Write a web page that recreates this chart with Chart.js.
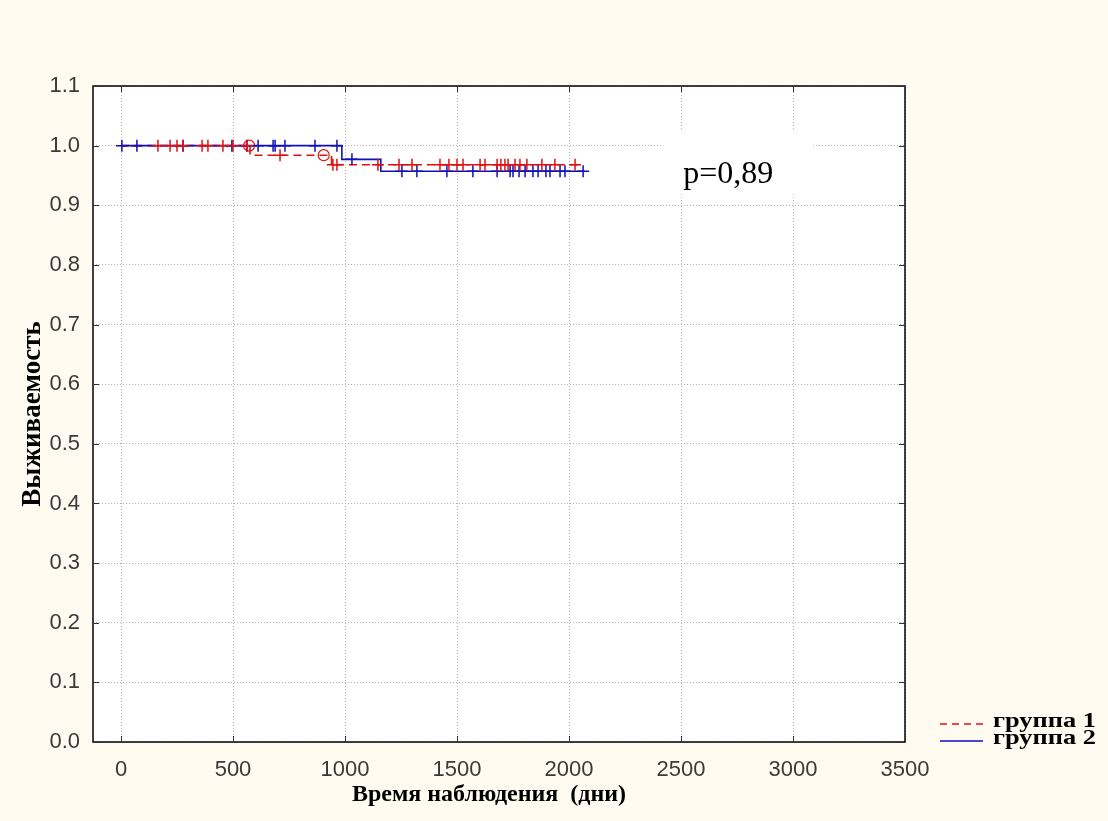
<!DOCTYPE html>
<html>
<head>
<meta charset="utf-8">
<script src="https://cdn.jsdelivr.net/npm/chart.js@4.4.1/dist/chart.umd.min.js"></script>
<style>
   html, body { margin: 0; padding: 0; background: #fffbf1; }
   #wrap { width: 1108px; height: 821px; }
</style>
</head>
<body>
<div id="wrap"><canvas id="kmChart"></canvas></div>
<script>
// Kaplan-Meier steps: time (days) and survival after the step
const group1Times = [0, 576, 940, 2050];
const group1Surv = [1.0, 0.984, 0.968, 0.968];
const group2Times = [0, 986, 1160, 2070];
const group2Surv = [1.0, 0.977, 0.957, 0.957];

// censored observations (days)
const group1Censored = [165, 219, 250, 277, 362, 388, 455, 500, 562, 710, 946, 964, 1147, 1241, 1299,
   1424, 1464, 1500, 1527, 1603, 1625, 1679, 1696, 1714, 1728, 1759, 1781, 1812, 1879, 1937, 2027];
const group2Censored = [4, 71, 277, 495, 562, 612, 679, 688, 732, 866, 964, 1031, 1254, 1321,
   1455, 1571, 1679, 1737, 1750, 1777, 1804, 1839, 1862, 1897, 1915, 1960, 1982, 2063];

// complete observations marked with open circles (group 1)
const group1Events = [572, 905];

const xTicks = [0, 500, 1000, 1500, 2000, 2500, 3000, 3500];
const yTicks = [0.0, 0.1, 0.2, 0.3, 0.4, 0.5, 0.6, 0.7, 0.8, 0.9, 1.0, 1.1];
const seriesLabels = ['группа 1', 'группа 2'];
const xTitle = 'Время наблюдения  (дни)';
const yTitle = 'Выживаемость';
const pValueText = 'p=0,89';

const red = '#e01010';
const blue = '#1010b8';
const serif = '"Liberation Serif", "Times New Roman", serif';

// survival value of a step curve at time t
function survAt(times, surv, t) {
   let s = surv[0];
   for (let i = 0; i < times.length; i++) {
      if (times[i] <= t) s = surv[i];
   }
   return s;
}

function toPoints(times, values) {
   return times.map((t, i) => ({ x: t, y: values[i] }));
}

const frame = {
   id: 'frame',
   beforeDraw(chart) {
      const c = chart.ctx;
      const a = chart.chartArea;
      c.save();
      c.fillStyle = '#fffbf1';
      c.fillRect(0, 0, chart.width, chart.height);
      c.fillStyle = '#ffffff';
      c.fillRect(a.left, a.top, a.right - a.left, a.bottom - a.top);
      c.restore();
   },
   beforeDatasetsDraw(chart) {
      // white box behind the p value hides the grid
      const c = chart.ctx;
      const x = chart.scales.x.getPixelForValue(2510);
      const y = chart.scales.y.getPixelForValue(0.938);
      c.save();
      c.fillStyle = '#ffffff';
      c.fillRect(x - 20, y - 53, 150, 65);
      c.restore();
   },
   afterDraw(chart) {
      const c = chart.ctx;
      const a = chart.chartArea;
      const sx = chart.scales.x;
      const sy = chart.scales.y;
      c.save();

      // box round the plot and small inner ticks
      c.strokeStyle = '#000000';
      c.lineWidth = 1.5;
      c.strokeRect(a.left, a.top, a.right - a.left, a.bottom - a.top);
      c.strokeStyle = '#333333';
      c.lineWidth = 1;
      c.beginPath();
      xTicks.forEach(v => {
         const px = Math.round(sx.getPixelForValue(v)) + 0.5;
         c.moveTo(px, a.bottom); c.lineTo(px, a.bottom - 6);
         c.moveTo(px, a.top); c.lineTo(px, a.top + 6);
      });
      yTicks.forEach(v => {
         const py = Math.round(sy.getPixelForValue(v)) + 0.5;
         c.moveTo(a.left, py); c.lineTo(a.left + 6, py);
         c.moveTo(a.right, py); c.lineTo(a.right - 6, py);
      });
      c.stroke();

      // p value
      c.fillStyle = '#000000';
      c.font = '32px ' + serif;
      c.textBaseline = 'alphabetic';
      c.textAlign = 'left';
      c.fillText(pValueText, sx.getPixelForValue(2510), sy.getPixelForValue(0.938));

      // axis titles
      c.font = 'bold 24px ' + serif;
      c.textAlign = 'center';
      c.textBaseline = 'middle';
      c.fillText(xTitle, a.left + 396, a.bottom + 53);
      c.save();
      c.translate(33, (a.top + a.bottom) / 2);
      c.rotate(-Math.PI / 2);
      c.font = 'bold 27px ' + serif;
      c.fillText(yTitle, 0, 0);
      c.restore();

      // legend
      const lx = a.right + 35;
      c.lineWidth = 1.5;
      c.strokeStyle = red;
      c.setLineDash([7, 5]);
      c.beginPath(); c.moveTo(lx, a.bottom - 18); c.lineTo(lx + 43, a.bottom - 18); c.stroke();
      c.setLineDash([]);
      c.strokeStyle = blue;
      c.beginPath(); c.moveTo(lx, a.bottom - 1); c.lineTo(lx + 43, a.bottom - 1); c.stroke();
      c.font = 'bold 22px ' + serif;
      c.textAlign = 'left';
      c.textBaseline = 'alphabetic';
      [seriesLabels[0], seriesLabels[1]].forEach((txt, i) => {
         c.save();
         c.translate(lx + 53, a.bottom - 15 + i * 17);
         c.scale(1.2, 1);
         c.fillText(txt, 0, 0);
         c.restore();
      });
      c.restore();
   }
};

document.addEventListener('DOMContentLoaded', () => {
   const ctx = document.getElementById('kmChart').getContext('2d');

   const crossStyle = (color) => ({
      showLine: false,
      pointStyle: 'cross',
      pointRadius: 6,
      pointBorderWidth: 1.5,
      borderColor: color,
      backgroundColor: color
   });

   new Chart(ctx, {
      type: 'scatter',
      data: {
         datasets: [
            {
               label: seriesLabels[0] + ' cens',
               data: group1Censored.map(t => ({ x: t, y: survAt(group1Times, group1Surv, t) })),
               ...crossStyle(red)
            },
            {
               label: seriesLabels[1] + ' cens',
               data: group2Censored.map(t => ({ x: t, y: survAt(group2Times, group2Surv, t) })),
               ...crossStyle(blue)
            },
            {
               label: seriesLabels[0] + ' events',
               data: group1Events.map(t => ({ x: t, y: survAt(group1Times, group1Surv, t + 1) })),
               showLine: false,
               pointStyle: 'circle',
               pointRadius: 5.5,
               pointBorderWidth: 1.2,
               borderColor: red,
               backgroundColor: 'rgba(0,0,0,0)'
            },
            {
               label: seriesLabels[1],
               data: toPoints(group2Times, group2Surv),
               showLine: true,
               stepped: true,
               borderColor: blue,
               borderWidth: 1.6,
               pointRadius: 0
            },
            {
               label: seriesLabels[0],
               data: toPoints(group1Times, group1Surv),
               showLine: true,
               stepped: true,
               borderColor: red,
               borderWidth: 1.6,
               borderDash: [8, 5],
               pointRadius: 0
            }
         ]
      },
      options: {
         responsive: true,
         maintainAspectRatio: false,
         animation: false,
         layout: {
            padding: { left: 0, right: 203, top: 86, bottom: 0 }
         },
         scales: {
            x: {
               type: 'linear',
               min: -125,
               max: 3500,
               afterBuildTicks: (scale) => { scale.ticks = xTicks.map(v => ({ value: v })); },
               afterFit: (scale) => { scale.height = 79; },
               grid: {
                  color: '#b0b0b0',
                  lineWidth: 1,
                  drawTicks: false
               },
               border: { display: false, dash: [1, 2] },
               ticks: {
                  padding: 15,
                  color: '#3a3a3a',
                  maxRotation: 0,
                  font: { family: '"Liberation Sans", Arial, sans-serif', size: 22 },
                  callback: (v) => String(v)
               }
            },
            y: {
               type: 'linear',
               min: 0,
               max: 1.1,
               afterBuildTicks: (scale) => { scale.ticks = yTicks.map(v => ({ value: v })); },
               afterFit: (scale) => { scale.width = 93; },
               grid: {
                  color: '#b0b0b0',
                  lineWidth: 1,
                  drawTicks: false
               },
               border: { display: false, dash: [1, 2] },
               ticks: {
                  padding: 13,
                  color: '#3a3a3a',
                  font: { family: '"Liberation Sans", Arial, sans-serif', size: 22 },
                  callback: (v) => Number(v).toFixed(1)
               }
            }
         },
         plugins: {
            legend: { display: false },
            tooltip: { enabled: false }
         }
      },
      plugins: [frame]
   });
});
</script>
</body>
</html>
